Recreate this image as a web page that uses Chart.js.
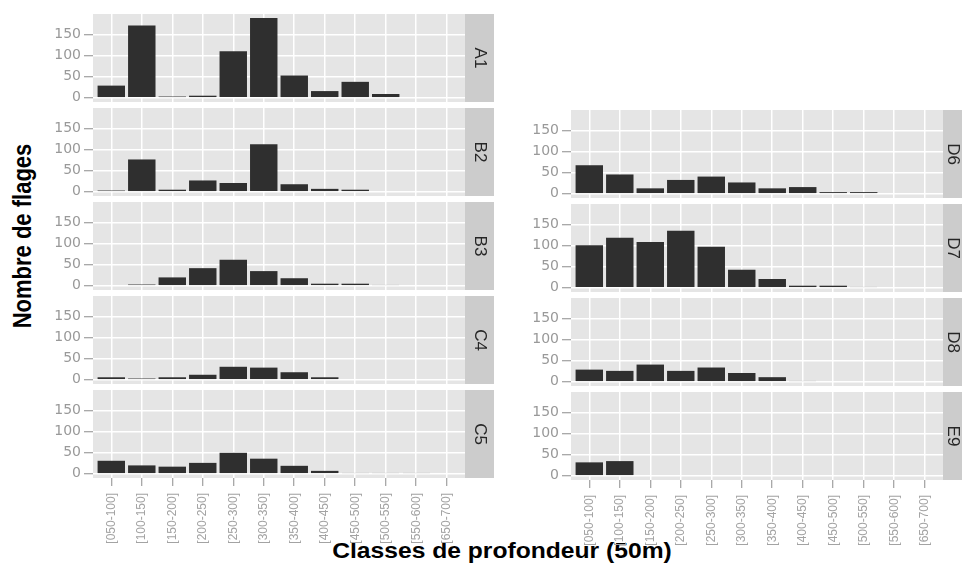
<!DOCTYPE html>
<html>
<head>
<meta charset="utf-8">
<script src="https://cdn.jsdelivr.net/npm/chart.js@4.4.0/dist/chart.umd.min.js"></script>
<style>
  html, body { margin: 0; padding: 0; background: #fff; overflow: hidden; }
  #page { position: relative; width: 962px; height: 567px; overflow: hidden;
          font-family: "Liberation Sans", Arial, sans-serif; background: #fff; }
  #page canvas { position: absolute; }
  .title { position: absolute; white-space: nowrap; font-weight: bold; color: #000;
           font-size: 22px; line-height: 1; }
</style>
</head>
<body>
<div id="page">
  <div class="title" id="ytitle">Nombre de flages</div>
  <div class="title" id="xtitle">Classes de profondeur (50m)</div>
</div>
<script>
// Depth classes (x axis)
const categories = ['[050-100]', '[100-150]', '[150-200]', '[200-250]', '[250-300]', '[300-350]',
                    '[350-400]', '[400-450]', '[450-500]', '[500-550]', '[550-600]', '[650-700]'];

// Counts per depth class, one array per site
const A1 = [29, 172, 3, 5, 111, 190, 53, 16, 38, 9, 0, 0];
const B2 = [3, 77, 5, 27, 21, 113, 18, 7, 5, 0, 0, 0];
const B3 = [0, 3, 20, 42, 62, 35, 18, 5, 5, 2, 0, 0];
const C4 = [6, 3, 6, 12, 31, 29, 18, 6, 0, 0, 0, 0];
const C5 = [31, 20, 17, 26, 50, 36, 19, 7, 2, 2, 2, 0];
const D6 = [68, 46, 13, 33, 41, 27, 13, 16, 4, 4, 0, 0];
const D7 = [101, 119, 109, 136, 98, 43, 21, 5, 5, 2, 0, 0];
const D8 = [29, 26, 41, 26, 34, 21, 11, 2, 0, 0, 0, 0];
const E9 = [32, 35, 0, 0, 0, 0, 0, 0, 0, 0, 0, 0];

// y axis: labelled every 50, minor grid every 25
const yTicks = [0, 25, 50, 75, 100, 125, 150, 175];
const yLabelled = [0, 50, 100, 150];

// facet layout
const AXIS_W = 50;
const PLOT_W = 372;
const PANEL_H = 88;
const X_AXIS_H = 80;
const columns = [
  { plotLeft: 93,  strip: 29, stripText: 15, tops: [14, 108, 202, 296, 390] },
  { plotLeft: 571, strip: 19, stripText: 10, tops: [null, 110, 204, 298, 392] }
];
const panels = [
  { label: 'A1', values: A1, col: 0, row: 0 },
  { label: 'B2', values: B2, col: 0, row: 1 },
  { label: 'B3', values: B3, col: 0, row: 2 },
  { label: 'C4', values: C4, col: 0, row: 3 },
  { label: 'C5', values: C5, col: 0, row: 4, bottom: true },
  { label: 'D6', values: D6, col: 1, row: 1 },
  { label: 'D7', values: D7, col: 1, row: 2 },
  { label: 'D8', values: D8, col: 1, row: 3 },
  { label: 'E9', values: E9, col: 1, row: 4, bottom: true }
];

// grey panel background and the facet strip on the right
const panelDecor = {
  id: 'panelDecor',
  beforeDraw(chart) {
    const { ctx, chartArea: a } = chart;
    ctx.save();
    ctx.fillStyle = '#E5E5E5';
    ctx.fillRect(a.left, a.top, a.right - a.left, a.bottom - a.top);
    ctx.restore();
  },
  afterDraw(chart, args, opts) {
    const { ctx, chartArea: a } = chart;
    ctx.save();
    ctx.fillStyle = '#CCCCCC';
    ctx.fillRect(a.right, a.top, opts.strip, a.bottom - a.top);
    ctx.translate(a.right + opts.stripText, (a.top + a.bottom) / 2);
    ctx.rotate(Math.PI / 2);
    ctx.fillStyle = '#262626';
    ctx.font = '17px "Liberation Sans", Arial, sans-serif';
    ctx.textAlign = 'center';
    ctx.textBaseline = 'middle';
    ctx.fillText(opts.label, 0, 0);
    ctx.restore();
  }
};

// keep every panel's plot area exactly the canvas area minus the axes
function noScalePadding(s) {
  s.paddingTop = 0;
  s.paddingBottom = 0;
  s.paddingLeft = 0;
  s.paddingRight = 0;
}

const page = document.getElementById('page');

function makePanel(p) {
  const col = columns[p.col];
  const bottom = !!p.bottom;
  const xh = bottom ? X_AXIS_H : 0;
  const W = AXIS_W + PLOT_W + col.strip;
  const H = PANEL_H + xh;
  const canvas = document.createElement('canvas');
  canvas.width = W;
  canvas.height = H;
  canvas.style.width = W + 'px';
  canvas.style.height = H + 'px';
  canvas.style.left = (col.plotLeft - AXIS_W) + 'px';
  canvas.style.top = col.tops[p.row] + 'px';
  page.appendChild(canvas);

  new Chart(canvas, {
    type: 'bar',
    data: {
      datasets: [{
        data: p.values.map((v, i) => ({ x: i, y: v })),
        backgroundColor: '#2F2F2F',
        borderWidth: 0,
        categoryPercentage: 1,
        barPercentage: 0.9
      }]
    },
    options: {
      responsive: false,
      animation: false,
      devicePixelRatio: 1,
      layout: { autoPadding: false, padding: { left: 0, top: 0, bottom: 0, right: col.strip } },
      plugins: {
        legend: { display: false },
        tooltip: { enabled: false },
        panelDecor: { label: p.label, strip: col.strip, stripText: col.stripText }
      },
      scales: {
        x: {
          type: 'linear',
          min: -0.6,
          max: 11.6,
          offset: false,
          afterBuildTicks: s => { s.ticks = categories.map((_, i) => ({ value: i })); },
          afterFit: s => { s.height = xh; noScalePadding(s); },
          border: { display: false },
          grid: {
            offset: false,
            color: '#FFFFFF',
            lineWidth: 1.5,
            drawTicks: bottom,
            tickLength: 8,
            tickColor: '#8C8C8C',
            tickWidth: 1
          },
          ticks: {
            display: bottom,
            autoSkip: false,
            maxRotation: 90,
            minRotation: 90,
            padding: 7,
            color: '#A3A3A3',
            font: { size: 12, family: '"Liberation Sans", Arial, sans-serif' },
            callback: v => categories[v]
          }
        },
        y: {
          min: -10,
          max: 199.5,
          afterBuildTicks: s => { s.ticks = yTicks.map(v => ({ value: v })); },
          afterFit: s => { s.width = AXIS_W; noScalePadding(s); },
          border: { display: false },
          grid: {
            color: c => yLabelled.includes(c.tick.value) ? '#FFFFFF' : '#F2F2F2',
            lineWidth: c => yLabelled.includes(c.tick.value) ? 1.5 : 0.8,
            tickColor: c => yLabelled.includes(c.tick.value) ? '#8C8C8C' : 'rgba(0,0,0,0)',
            tickLength: 9,
            tickWidth: 1
          },
          ticks: {
            autoSkip: false,
            padding: 3,
            color: '#999999',
            font: { size: 14, family: '"DejaVu Sans", sans-serif' },
            callback: v => yLabelled.includes(v) ? String(v) : null
          }
        }
      }
    },
    plugins: [panelDecor]
  });
}

panels.forEach(makePanel);

// axis titles
const yt = document.getElementById('ytitle');
yt.style.left = '23px';
yt.style.top = '236px';
yt.style.transform = 'translate(-50%, -50%) rotate(-90deg) scaleY(1.2)';
const xt = document.getElementById('xtitle');
xt.style.left = '502px';
xt.style.top = '551px';
xt.style.transform = 'translate(-50%, -50%) scaleX(1.12)';
</script>
</body>
</html>
